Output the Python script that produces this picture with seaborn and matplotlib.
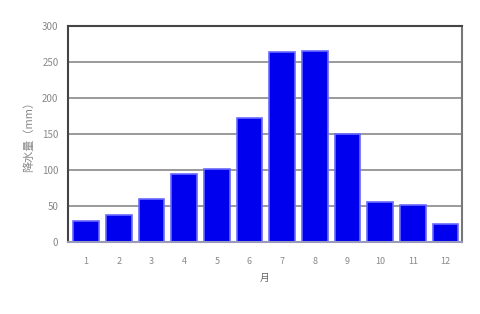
import matplotlib
matplotlib.use("Agg")
import matplotlib.pyplot as plt
import seaborn as sns
import pandas as pd

months = ["1", "2", "3", "4", "5", "6", "7", "8", "9", "10", "11", "12"]
rainfall = [29, 38, 60, 95, 102, 172, 264, 266, 150, 56, 52, 25]
y_ticks = [0, 50, 100, 150, 200, 250, 300]

sns.set_theme(style="white")
plt.rcParams['font.family'] = ['Noto Sans CJK JP', 'DejaVu Sans']

df = pd.DataFrame({"month": months, "rain": rainfall})

fig = plt.figure(figsize=(4.8, 3.14), dpi=100)
ax = fig.add_axes([0.142, 0.229, 0.82, 0.688])
ax.set_axisbelow(True)
for t in y_ticks[1:-1]:
    ax.axhline(t, color="#9a9a9a", linewidth=1.4, zorder=0)
sns.barplot(data=df, x="month", y="rain", color="#0000ee", saturation=1,
            width=0.78, edgecolor="#6a6aff", linewidth=1.2, ax=ax, zorder=2)
ax.set_ylim(0, 300)
ax.set_xlim(-0.55, 11.5)
ax.set_yticks(y_ticks)
ax.tick_params(axis="x", labelsize=6.5, colors="#888888", length=0, pad=11)
ax.tick_params(axis="y", labelsize=7, colors="#888888", length=0, pad=7)
for s in ax.spines.values():
    s.set_color("#444444")
    s.set_linewidth(1.5)
ax.spines["right"].set_color("#777777")
ax.spines["bottom"].set_color("#9999bb")
ax.set_xlabel("月", fontsize=7, color="#666666", labelpad=5)
ax.set_ylabel("降水量（mm）", fontsize=8, color="#888888", labelpad=6)
fig.savefig("out.png", dpi=100)
